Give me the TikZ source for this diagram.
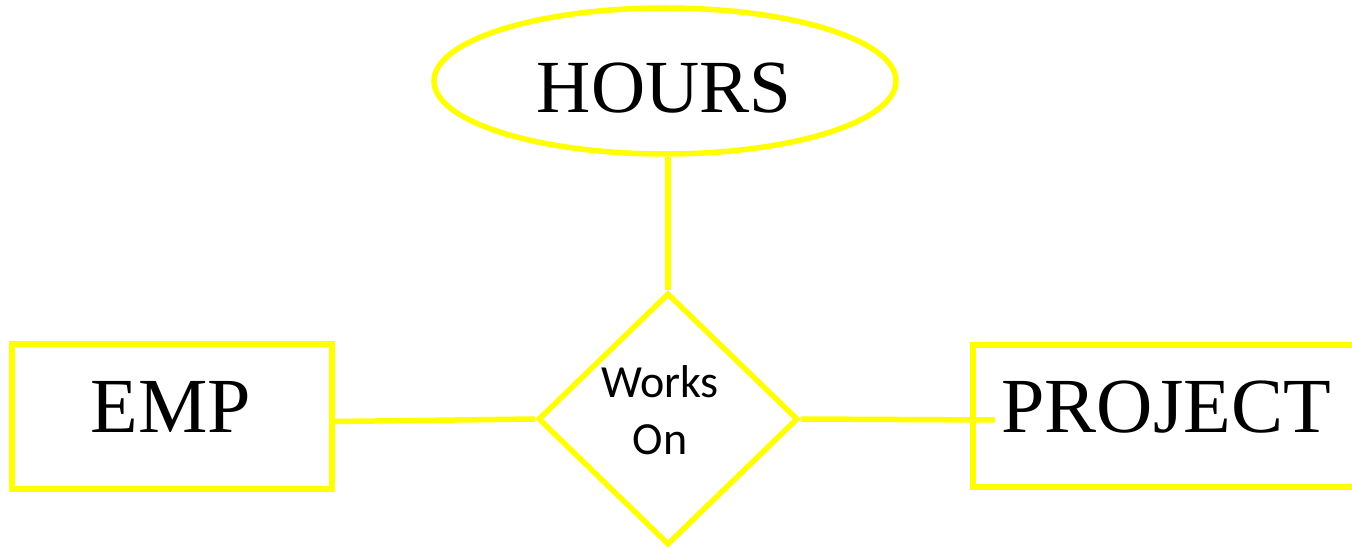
\documentclass[tikz,border=0pt]{standalone}
\usepackage{fontspec}
\setmainfont{Liberation Serif}
\newfontfamily\calfont{Carlito}
\usetikzlibrary{shapes.geometric,calc}
\definecolor{eryellow}{HTML}{FFFF00}
\tikzset{
  shapeline/.style={draw=eryellow, line width=5.5pt, inner sep=0pt, fill=white},
  conn/.style={draw=eryellow, line width=5.5pt},
  bigtext/.style={font=\fontsize{78}{94}\selectfont, text=black, inner sep=0pt, anchor=base},
  reltext/.style={font=\calfont\fontsize{46}{57}\selectfont, text=black, inner sep=0pt, align=center}
}
\begin{document}
\begin{tikzpicture}[x=1pt,y=-1pt]
\useasboundingbox (0,0) rectangle (1352,548);
\node[shapeline, ellipse, minimum width=462pt, minimum height=146pt] (hours) at (665,81) {};
\node[shapeline, diamond, minimum width=260pt, minimum height=252pt] (rel) at (668,419) {};
\node[shapeline, rectangle, minimum width=320pt, minimum height=145pt] (emp) at (172,416.5) {};
\node[draw=eryellow, line width=5.5pt, inner sep=0pt, rectangle, minimum width=400pt, minimum height=142pt] (proj) at (1173,416) {};
\coordinate (pend) at (995,420);
\draw[conn] (hours.south -| rel.north) -- (rel.north);
\draw[conn] ($(emp.east)+(0,5)$) -- (rel.west);
\draw[conn] (rel.east) -- (pend);
\node[bigtext, font=\fontsize{75}{90}\selectfont] (hourst) at (664,113) {HOURS};
\node[bigtext] (empt) at (171,432) {EMP};
\node[bigtext] (projt) at (1166,432) {PROJECT};
\node[reltext] (relt) at (660,410) {Works\\On};
\end{tikzpicture}
\end{document}
